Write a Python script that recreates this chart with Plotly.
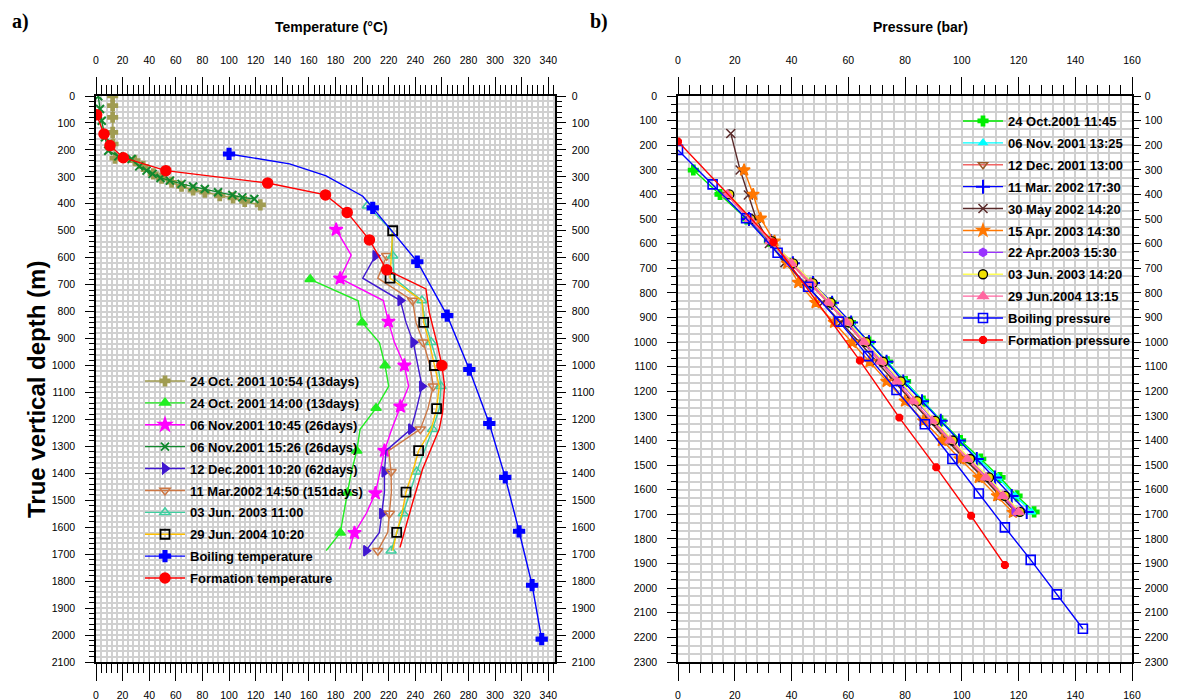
import plotly.graph_objects as go

# ================= Panel a) Temperature logs (depth m, temperature °C) =================
t_oct1054_depth = [0, 36, 79, 135, 178, 231, 240, 261, 289, 305, 320, 335, 349, 357, 370, 378, 391, 404]
t_oct1054_temp = [12.5, 12.5, 12.5, 12.5, 12.8, 14.3, 29.3, 35.5, 43, 49.3, 56.8, 64.3, 73, 81.8, 93, 103, 111.8, 123.5]

t_oct1400_depth = [680, 760, 840, 915, 1000, 1077, 1158, 1237, 1316, 1394, 1472, 1549, 1620, 1687]
t_oct1400_temp = [161, 197, 200, 213, 217.3, 220, 210.5, 198.5, 196, 192, 189, 186, 183.6, 173]

t_nov1045_depth = [496, 590, 677, 759, 837, 914, 1000, 1077, 1152, 1240, 1316, 1395, 1474, 1550, 1621, 1681]
t_nov1045_temp = [180.5, 191.8, 183.5, 216, 219.8, 224.3, 231.8, 235, 228.8, 222, 216.8, 213.5, 210, 203, 194.3, 190.5]

t_nov1526_depth = [1, 48, 92, 153, 203, 224, 234, 261, 277, 289, 304, 314, 326, 336, 345, 357, 367, 376, 382]
t_nov1526_temp = [1.7, 3, 4.3, 6.8, 9.2, 16.8, 26.8, 32.5, 38, 42.5, 48.5, 55.5, 64.3, 73, 81.8, 91.7, 102.5, 110, 119]

t_dec_depth = [593, 676, 759, 840, 914, 1000, 1077, 1160, 1236, 1316, 1394, 1470, 1549, 1619, 1687]
t_dec_temp = [210, 200.5, 228.8, 233, 238.5, 242, 245, 241, 236.8, 218, 216.8, 216.8, 215, 213, 203]

t_mar_depth = [593, 676, 759, 840, 914, 1000, 1077, 1160, 1236, 1316, 1394, 1470, 1549, 1619, 1687]
t_mar_temp = [218.5, 211.8, 238, 240.5, 246, 251, 253.5, 249.5, 243.8, 220, 221.8, 222, 220.5, 219.3, 211.8]

t_jun03_depth = [407, 500, 593, 676, 759, 840, 914, 1000, 1077, 1160, 1236, 1316, 1394, 1470, 1549, 1619, 1687]
t_jun03_temp = [204, 222.5, 223, 224, 245, 247.5, 252, 257, 259.3, 258, 253, 247, 241, 236, 231, 226, 221.8]

t_jun04_depth = [500, 593, 676, 759, 840, 914, 1000, 1077, 1160, 1236, 1316, 1394, 1470, 1549, 1619, 1687]
t_jun04_temp = [223, 222, 221, 245, 246.3, 250.5, 254.3, 258, 256, 252, 242.5, 238, 233, 230, 226, 223]

boil_t_depth = [215, 252, 296, 372, 415, 615, 815, 1015, 1215, 1415, 1615, 1815, 2015]
boil_t_temp = [100, 145.5, 173, 200.5, 208, 241.5, 264, 280.6, 295.6, 307.6, 318, 327.8, 335]
boil_t_marks = [0, 4, 5, 6, 7, 8, 9, 10, 11, 12]

form_t_depth = [70, 141, 184, 229, 277, 323, 367, 432, 534, 645, 716, 803, 927, 1000, 1075, 1174, 1236, 1297, 1384, 1508, 1619, 1675]
form_t_temp = [0.5, 6, 10.5, 20.5, 52.5, 129, 172.5, 188.8, 205.5, 218.5, 248, 250.5, 256.8, 260, 262, 260.5, 258, 253, 245.5, 238, 231.8, 228.5]
form_t_marks = [0, 1, 2, 3, 4, 5, 6, 7, 8, 9, 13]

# ================= Panel b) Pressure logs (depth m, pressure bar) =================
p_oct_depth = [301, 400, 500, 590, 680, 760, 840, 920, 1000, 1080, 1160, 1240, 1320, 1400, 1475, 1550, 1625, 1690]
p_oct_pres = [5.4, 14.8, 24.2, 32.2, 40.0, 47.0, 54.0, 60.8, 67.3, 73.8, 80.2, 86.5, 92.7, 99.6, 106.7, 113.5, 119.5, 125.5]

p_nov_depth = [500, 590, 680, 760, 840, 920, 1000, 1080, 1160, 1240, 1320, 1400, 1475, 1550, 1625, 1690]
p_nov_pres = [24.8, 32.5, 40.2, 47.2, 54.0, 60.8, 67.2, 73.6, 80.0, 86.3, 92.5, 99.0, 105.8, 112.8, 118.8, 124.6]

p_dec_depth = [400, 500, 590, 680, 760, 840, 920, 1000, 1080, 1160, 1240, 1320, 1400, 1475, 1550, 1625, 1690]
p_dec_pres = [17.2, 25.0, 32.4, 39.8, 46.5, 52.8, 59.2, 65.2, 71.2, 77.0, 82.7, 89.0, 95.3, 101.5, 108.0, 114.0, 119.5]

p_mar_depth = [500, 590, 680, 760, 840, 920, 1000, 1080, 1160, 1240, 1320, 1400, 1475, 1550, 1625, 1690]
p_mar_pres = [25.0, 32.8, 40.5, 47.6, 54.3, 61.0, 67.3, 73.5, 79.4, 86.0, 92.6, 99.0, 105.3, 111.7, 117.6, 122.9]

p_may_depth = [152, 301, 402, 497, 599, 677, 760, 840, 920, 1000, 1080, 1160, 1240, 1320, 1400, 1475, 1550, 1625, 1690]
p_may_pres = [18.6, 21.9, 24.8, 27.5, 32.2, 37.7, 44.5, 51.0, 57.5, 63.8, 70.0, 76.2, 82.3, 88.5, 94.8, 101.0, 107.5, 113.5, 119.0]

p_apr15_depth = [301, 400, 497, 590, 680, 758, 840, 920, 1002, 1080, 1160, 1240, 1320, 1400, 1475, 1550, 1625, 1692]
p_apr15_pres = [23.3, 26.5, 29.1, 34.0, 38.5, 42.4, 48.5, 55.0, 61.4, 67.5, 73.5, 80.0, 86.5, 93.0, 99.4, 106.0, 112.5, 118.0]

p_apr22_depth = [500, 590, 680, 760, 840, 920, 1000, 1080, 1160, 1240, 1320, 1400, 1475, 1550, 1625, 1690]
p_apr22_pres = [25.3, 32.7, 40.3, 47.2, 53.5, 59.9, 66.0, 72.0, 78.0, 84.0, 90.2, 96.4, 102.6, 109.0, 114.8, 119.0]

p_jun03_depth = [400, 500, 590, 680, 760, 840, 920, 1000, 1080, 1160, 1240, 1320, 1400, 1475, 1550, 1625, 1690]
p_jun03_pres = [18.1, 25.6, 33.0, 40.6, 47.5, 53.8, 60.3, 66.3, 72.3, 78.5, 84.3, 90.6, 96.8, 102.9, 109.6, 115.2, 120.5]

p_jun04_depth = [400, 500, 590, 680, 760, 840, 920, 1000, 1080, 1160, 1240, 1320, 1400, 1475, 1550, 1625, 1690]
p_jun04_pres = [17.4, 25.3, 32.5, 40.0, 46.8, 53.0, 59.5, 65.5, 71.5, 77.2, 82.9, 89.5, 95.9, 102.0, 108.5, 114.5, 120.0]

boil_p_depth = [219, 359, 497, 637, 775, 917, 1057, 1195, 1334, 1475, 1615, 1753, 1885, 2025, 2165]
boil_p_pres = [0, 12.2, 24, 35.1, 45.9, 56.8, 67, 77, 87, 96.7, 106, 115.2, 124.3, 133.5, 142.7]

form_p_depth = [185, 594, 1075, 1307, 1509, 1706, 1906]
form_p_pres = [0, 33.6, 64.1, 78, 91, 103.3, 115.2]

# tick settings
temp_ticks = list(range(0, 341, 20))
depth_ticks_a = list(range(0, 2101, 100))
pres_ticks = list(range(0, 161, 20))
depth_ticks_b = list(range(0, 2301, 100))

# the page body has an 8 px margin: the figure is drawn from (8, 8)
OFF = 8
W, H = 1180 - OFF, 700 - OFF
A_X0, A_X1 = 96, 555
B_X0, B_X1 = 678, 1132
Y_TOP, Y_BOT = 96, 662


def fx(px):
    return (px - OFF) / W


def fy(py):
    return 1 - (py - OFF) / H


TICKFONT = dict(family="Liberation Sans, Arial", size=10.5, color="black")
LEGFONT = dict(family="Liberation Sans, Arial", size=13, color="black", weight="bold")
GRID = "#d0d0d0"

fig = go.Figure()


def every(n, length, start=0):
    return list(range(start, length, n))


def add_series(xs, ys, name, color, symbol, msize, legend, xa, ya, marks=None,
               lcolor=None, mfill=None, mline=None, mlw=1.5, lw=1.4):
    lcolor = lcolor or color
    if marks is None:
        marks = list(range(len(xs)))
    marker = dict(symbol=symbol, size=msize, color=mfill or color,
                  line=dict(color=mline or color, width=mlw))
    fig.add_trace(go.Scatter(x=xs, y=ys, mode="lines", line=dict(color=lcolor, width=lw),
                             xaxis=xa, yaxis=ya, showlegend=False, hoverinfo="skip"))
    fig.add_trace(go.Scatter(x=[xs[i] for i in marks], y=[ys[i] for i in marks], mode="markers",
                             marker=marker, xaxis=xa, yaxis=ya, showlegend=False, hoverinfo="skip"))
    fig.add_trace(go.Scatter(x=[None], y=[None], mode="lines+markers", name=name, legendgroup=name,
                             line=dict(color=lcolor, width=lw), marker=marker,
                             legend=legend, xaxis=xa, yaxis=ya, showlegend=True))


# ---------- panel a ----------
add_series(t_oct1054_temp, t_oct1054_depth, "24 Oct. 2001 10:54 (13days)", "#a09c52", "cross", 8, "legend", "x", "y")
add_series(t_oct1400_temp, t_oct1400_depth, "24 Oct. 2001 14:00 (13days)", "#22ee22", "triangle-up", 9, "legend", "x", "y",
           marks=every(2, len(t_oct1400_depth)))
add_series(t_nov1045_temp, t_nov1045_depth, "06 Nov.2001 10:45 (26days)", "#ff00ff", "star", 10, "legend", "x", "y",
           marks=every(2, len(t_nov1045_depth)))
add_series(t_nov1526_temp, t_nov1526_depth, "06 Nov.2001 15:26 (26days)", "#12882e", "x-thin-open", 8, "legend", "x", "y", mlw=2)
add_series(t_dec_temp, t_dec_depth, "12 Dec.2001 10:20 (62days)", "#4018d0", "triangle-right", 9, "legend", "x", "y",
           marks=every(2, len(t_dec_depth)))
add_series(t_mar_temp, t_mar_depth, "11 Mar.2002 14:50 (151days)", "#cc7744", "triangle-down-open", 9, "legend", "x", "y",
           marks=every(2, len(t_mar_depth)))
add_series(t_jun03_temp, t_jun03_depth, "03 Jun. 2003 11:00", "#3ecfa0", "triangle-up-open", 9, "legend", "x", "y",
           marks=every(2, len(t_jun03_depth)))
add_series(t_jun04_temp, t_jun04_depth, "29 Jun. 2004 10:20", "#ffc000", "square-open", 9, "legend", "x", "y",
           marks=every(2, len(t_jun04_depth)), mline="black", mfill="black", mlw=1.8)
add_series(boil_t_temp, boil_t_depth, "Boiling temperature", "#0000ff", "cross", 9, "legend", "x", "y", marks=boil_t_marks)
add_series(form_t_temp, form_t_depth, "Formation temperature", "#ff0000", "circle", 10, "legend", "x", "y", marks=form_t_marks)

# ---------- panel b ----------
add_series(p_oct_pres, p_oct_depth, "24 Oct.2001 11:45", "#00ee00", "cross", 8, "legend2", "x2", "y2")
add_series(p_nov_pres, p_nov_depth, "06 Nov. 2001 13:25", "#00ffff", "triangle-up", 7, "legend2", "x2", "y2")
add_series(p_dec_pres, p_dec_depth, "12 Dec. 2001 13:00", "#f06464", "triangle-down-open", 8, "legend2", "x2", "y2",
           mline="#9c5a2a", mfill="#9c5a2a")
add_series(p_mar_pres, p_mar_depth, "11 Mar. 2002 17:30", "#0000ff", "cross-thin-open", 10, "legend2", "x2", "y2", mlw=2)
add_series(p_may_pres, p_may_depth, "30 May 2002 14:20", "#5a2a2a", "x-thin-open", 9, "legend2", "x2", "y2", mlw=1.5)
add_series(p_apr15_pres, p_apr15_depth, "15 Apr. 2003 14:30", "#ff7700", "star", 9, "legend2", "x2", "y2")
add_series(p_apr22_pres, p_apr22_depth, "22 Apr.2003 15:30", "#9933ff", "hexagon", 8, "legend2", "x2", "y2")
add_series(p_jun03_pres, p_jun03_depth, "03 Jun. 2003 14:20", "#ffff55", "circle", 9, "legend2", "x2", "y2",
           mfill="#f0e000", mline="black", mlw=1.3)
add_series(p_jun04_pres, p_jun04_depth, "29 Jun.2004 13:15", "#ff66a0", "triangle-up", 9, "legend2", "x2", "y2")
add_series(boil_p_pres, boil_p_depth, "Boiling pressure", "#0000ff", "square-open", 9, "legend2", "x2", "y2", mlw=1.6)
add_series(form_p_pres, form_p_depth, "Formation pressure", "#ff0000", "octagon", 7, "legend2", "x2", "y2")

# dummy traces to activate mirrored label axes
for xa, ya in (("x3", "y3"), ("x4", "y4")):
    fig.add_trace(go.Scatter(x=[None], y=[None], xaxis=xa, yaxis=ya, showlegend=False, hoverinfo="skip"))


def xaxis(rng, ticks, side, anchor, domain, overlay=None, grid=True, minor_dtick=4, standoff=9):
    d = dict(range=rng, tickvals=ticks, side=side, anchor=anchor, domain=domain, automargin=False,
             ticks="outside", ticklen=17, tickwidth=1.3, tickcolor="black",
             showline=True, linecolor="black", linewidth=1.5,
             tickfont=TICKFONT, ticklabelstandoff=standoff, zeroline=False,
             showgrid=grid, gridcolor=GRID, gridwidth=1.5,
             minor=dict(dtick=minor_dtick, tick0=0, ticks="outside", ticklen=9, tickcolor="black", tickwidth=1,
                        showgrid=grid, gridcolor=GRID, gridwidth=1.5))
    if overlay:
        d["overlaying"] = overlay
    return d


def yaxis(rng, ticks, side, anchor, domain, overlay=None, grid=True, minor_dtick=20, standoff=8, ticklen=9):
    d = dict(range=rng, tickvals=ticks, side=side, anchor=anchor, domain=domain, automargin=False,
             ticks="outside", ticklen=ticklen, tickwidth=1.3, tickcolor="black",
             showline=True, linecolor="black", linewidth=1.5,
             tickfont=TICKFONT, ticklabelstandoff=standoff, zeroline=False,
             showgrid=grid, gridcolor=GRID, gridwidth=1.5,
             minor=dict(dtick=minor_dtick, tick0=0, ticks="outside", ticklen=5, tickcolor="black", tickwidth=1,
                        showgrid=grid, gridcolor=GRID, gridwidth=1.5))
    if overlay:
        d["overlaying"] = overlay
    return d


A_XDOM = [fx(A_X0), fx(A_X1)]
B_XDOM = [fx(B_X0), fx(B_X1)]
YDOM = [fy(Y_BOT), fy(Y_TOP)]
A_XR = [0, 345]
B_XR = [0, 160]
A_YR = [2100, 0]
B_YR = [2300, 0]
B_MINOR_DEPTH = 100 / 3

TITLEFONT = dict(family="Liberation Sans, Arial", size=14, color="black")


def label(text, px, py, font, angle=0):
    return dict(text=text, x=fx(px), y=fy(py), xref="paper", yref="paper", showarrow=False,
                xanchor="center", yanchor="middle", textangle=angle, font=font)


fig.update_layout(
    width=W, height=H,
    margin=dict(l=0, r=0, t=0, b=0, autoexpand=False),
    paper_bgcolor="white", plot_bgcolor="white",
    showlegend=True,
    xaxis=xaxis(A_XR, temp_ticks, "top", "y", A_XDOM),
    yaxis=yaxis(A_YR, depth_ticks_a, "left", "x", YDOM),
    xaxis3=xaxis(A_XR, temp_ticks, "bottom", "y", A_XDOM, overlay="x", grid=False, standoff=6),
    yaxis3=yaxis(A_YR, depth_ticks_a, "right", "x", YDOM, overlay="y", grid=False, standoff=4),
    xaxis2=xaxis(B_XR, pres_ticks, "top", "y2", B_XDOM),
    yaxis2=yaxis(B_YR, depth_ticks_b, "left", "x2", YDOM, minor_dtick=B_MINOR_DEPTH),
    xaxis4=xaxis(B_XR, pres_ticks, "bottom", "y2", B_XDOM, overlay="x2", grid=False, standoff=6),
    yaxis4=yaxis(B_YR, depth_ticks_b, "right", "x2", YDOM, overlay="y2", grid=False,
                 minor_dtick=B_MINOR_DEPTH, standoff=2, ticklen=7),
    legend=dict(x=fx(140), y=fy(366), xanchor="left", yanchor="top", bgcolor="rgba(0,0,0,0)",
                font=LEGFONT, tracegroupgap=2, itemwidth=40, traceorder="grouped"),
    legend2=dict(x=fx(958), y=fy(106), xanchor="left", yanchor="top", bgcolor="rgba(0,0,0,0)",
                 font=LEGFONT, tracegroupgap=2, itemwidth=40, traceorder="grouped"),
    annotations=[
        label("<b>a)</b>", 20, 21, dict(family="Liberation Serif, Times New Roman", size=20, color="black")),
        label("<b>b)</b>", 599, 22, dict(family="Liberation Serif, Times New Roman", size=20, color="black")),
        label("<b>Temperature (°C)</b>", 331, 27, TITLEFONT),
        label("<b>Pressure (bar)</b>", 920, 27, TITLEFONT),
        label("<b>True vertical depth (m)</b>", 36, 390,
              dict(family="Liberation Sans, Arial", size=24, color="black"), angle=-90),
    ],
)

fig.write_html("out.html")
